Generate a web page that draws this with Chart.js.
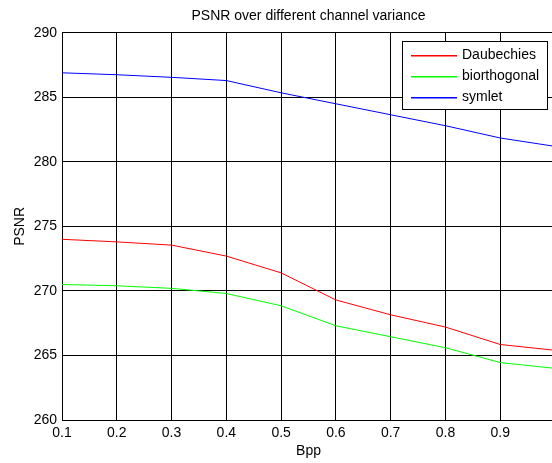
<!DOCTYPE html>
<html>
<head>
<meta charset="utf-8">
<script src="https://cdn.jsdelivr.net/npm/chart.js@4/dist/chart.umd.min.js"></script>
<style>
  html, body { margin: 0; padding: 0; background: #fff; overflow: hidden; }
  #wrap { width: 570px; height: 463px; }
</style>
</head>
<body>
<div id="wrap"><canvas id="psnrChart" width="570" height="463"></canvas></div>
<script>
// values
const bpp = [0.1, 0.2, 0.3, 0.4, 0.5, 0.6, 0.7, 0.8, 0.9, 1.0];
const daubechies = [274.0, 273.8, 273.55, 272.7, 271.4, 269.3, 268.15, 267.2, 265.85, 265.4];
const biorthogonal = [270.5, 270.4, 270.2, 269.8, 268.85, 267.3, 266.45, 265.6, 264.45, 264.0];
const symlet = [286.9, 286.75, 286.55, 286.3, 285.35, 284.5, 283.65, 282.8, 281.85, 281.2];
const seriesNames = ["Daubechies", "biorthogonal", "symlet"];
const seriesColors = ["rgb(255, 0, 0)", "rgb(0, 255, 0)", "rgb(0, 0, 255)"];
const yTicks = [260, 265, 270, 275, 280, 285, 290];

const font = "'Liberation Sans', Arial, sans-serif";

const toPoints = vals => vals.map((v, i) => ({ x: bpp[i], y: v }));

// MATLAB style boxed legend in the upper right of the axes
const boxLegend = {
    id: "boxLegend",
    afterDraw(chart) {
        const ctx = chart.ctx;
        const area = chart.chartArea;
        const w = 145, h = 68;
        const x0 = Math.round(area.right - 8 - w);
        const y0 = Math.round(area.top + 8);
        ctx.save();
        ctx.fillStyle = "#fff";
        ctx.fillRect(x0, y0, w, h);
        ctx.fillStyle = "#000";
        ctx.fillRect(x0, y0, w + 1, 1);
        ctx.fillRect(x0, y0 + h, w + 1, 1);
        ctx.fillRect(x0, y0, 1, h + 1);
        ctx.fillRect(x0 + w, y0, 1, h + 1);
        ctx.font = "14px " + font;
        ctx.textBaseline = "middle";
        for (let i = 0; i < seriesNames.length; i++) {
            const cy = y0 + 14 + i * 21;
            ctx.fillStyle = seriesColors[i];
            ctx.fillRect(x0 + 9, cy, 46, 1.5);
            ctx.fillStyle = "#000";
            ctx.fillText(seriesNames[i], x0 + 60, cy);
        }
        ctx.restore();
    }
};

const ctx = document.getElementById("psnrChart").getContext("2d");

new Chart(ctx, {
    type: "line",
    data: {
        datasets: [daubechies, biorthogonal, symlet].map((vals, i) => ({
            label: seriesNames[i],
            data: toPoints(vals),
            borderColor: seriesColors[i],
            borderWidth: 1,
            pointRadius: 0,
            tension: 0,
            fill: false
        }))
    },
    options: {
        responsive: false,
        animation: false,
        layout: { padding: { left: 0, right: 15, top: 0, bottom: 0 } },
        plugins: {
            legend: { display: false },
            tooltip: { enabled: false },
            title: {
                display: true,
                fullSize: false,
                text: "PSNR over different channel variance",
                color: "#000",
                font: { family: font, size: 14, weight: "normal" },
                padding: { top: 8, bottom: 8 }
            }
        },
        scales: {
            x: {
                type: "linear",
                min: 0.1,
                max: 1.0,
                afterFit: s => { s.height = 43; },
                grid: { color: "#000", lineWidth: 1, drawTicks: false },
                border: { color: "#000", width: 1 },
                ticks: {
                    stepSize: 0.1,
                    padding: 5,
                    color: "#000",
                    maxRotation: 0,
                    font: { family: font, size: 14 },
                    callback: v => String(Number(v.toFixed(1)))
                },
                title: {
                    display: true,
                    text: "Bpp",
                    color: "#000",
                    font: { family: font, size: 14 },
                    padding: { top: 0, bottom: 3 }
                }
            },
            y: {
                min: yTicks[0],
                max: yTicks[yTicks.length - 1],
                afterFit: s => { s.width = 62; },
                grid: { color: "#000", lineWidth: 1, drawTicks: false },
                border: { color: "#000", width: 1 },
                ticks: {
                    stepSize: 5,
                    padding: 5,
                    color: "#000",
                    font: { family: font, size: 14 }
                },
                title: {
                    display: true,
                    text: "PSNR",
                    color: "#000",
                    font: { family: font, size: 14 },
                    padding: { top: 12, bottom: 0 }
                }
            }
        }
    },
    plugins: [boxLegend]
});
</script>
</body>
</html>
